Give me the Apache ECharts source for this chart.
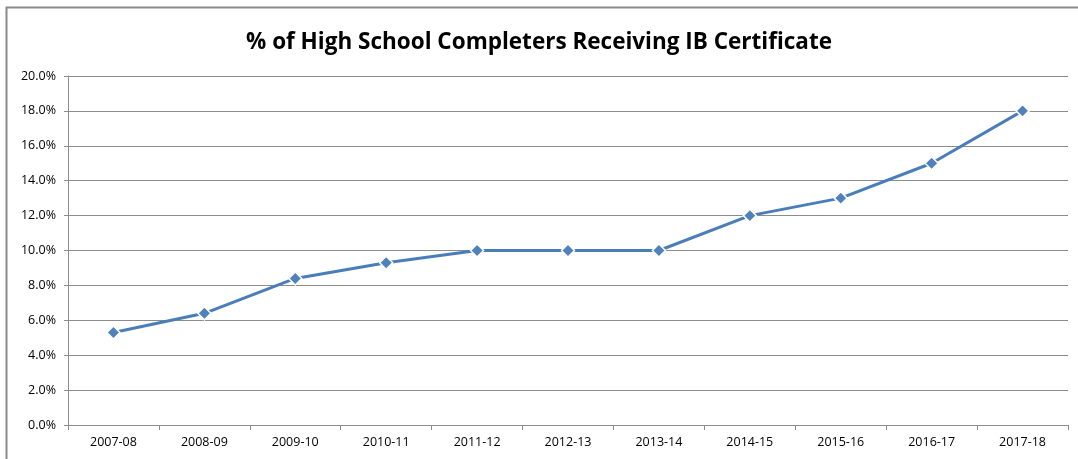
<!DOCTYPE html>
<html>
<head>
<meta charset="utf-8">
<script src="https://cdn.jsdelivr.net/npm/echarts@6/dist/echarts.min.js"></script>
<style>
  html, body { margin: 0; padding: 0; background: #fff; }
  #chart { width: 1078px; height: 459px; }
</style>
</head>
<body>
<div id="chart"></div>
<script>
const titleText = "% of High School Completers Receiving IB Certificate";
const years = ["2007-08", "2008-09", "2009-10", "2010-11", "2011-12", "2012-13",
  "2013-14", "2014-15", "2015-16", "2016-17", "2017-18"];
const pctIB = [5.3, 6.4, 8.4, 9.3, 10.0, 10.0, 10.0, 12.0, 13.0, 15.0, 18.0];

const chart = echarts.init(document.getElementById("chart"));
const gray = "#8c8c8c";
const blue = "#4a7ebb";

chart.setOption({
  animation: false,
  textStyle: { fontFamily: "Open Sans, sans-serif" },
  title: {
    text: titleText,
    left: "center",
    top: 26,
    textStyle: { fontSize: 22.5, fontWeight: "bold", color: "#000", fontFamily: "Open Sans, sans-serif" }
  },
  // outer frame of the chart area
  graphic: [{
    type: "rect",
    shape: { x: 6.5, y: 7.5, width: 1100, height: 500 },
    style: { fill: null, stroke: "#8a8a8a", lineWidth: 2 },
    silent: true
  }],
  grid: { left: 68, right: 10, top: 76, bottom: 34 },
  xAxis: {
    type: "category",
    data: years,
    boundaryGap: true,
    axisLine: { lineStyle: { color: gray, width: 1 } },
    axisTick: { show: true, length: 5, lineStyle: { color: gray } },
    axisLabel: { color: "#000", fontSize: 12.5, margin: 11 }
  },
  yAxis: {
    type: "value",
    min: 0,
    max: 20,
    interval: 2,
    axisLine: { show: true, lineStyle: { color: gray, width: 1 } },
    axisTick: { show: true, length: 4, lineStyle: { color: gray } },
    splitLine: { lineStyle: { color: gray, width: 1 } },
    axisLabel: {
      color: "#000",
      fontSize: 12.5,
      margin: 12,
      formatter: v => v.toFixed(1) + "%"
    }
  },
  series: [{
    type: "line",
    data: pctIB,
    symbol: "diamond",
    symbolSize: 13,
    lineStyle: { color: blue, width: 3 },
    itemStyle: { color: "#4f81bd", borderColor: "#fff", borderWidth: 1.5 }
  }]
});
</script>
</body>
</html>
